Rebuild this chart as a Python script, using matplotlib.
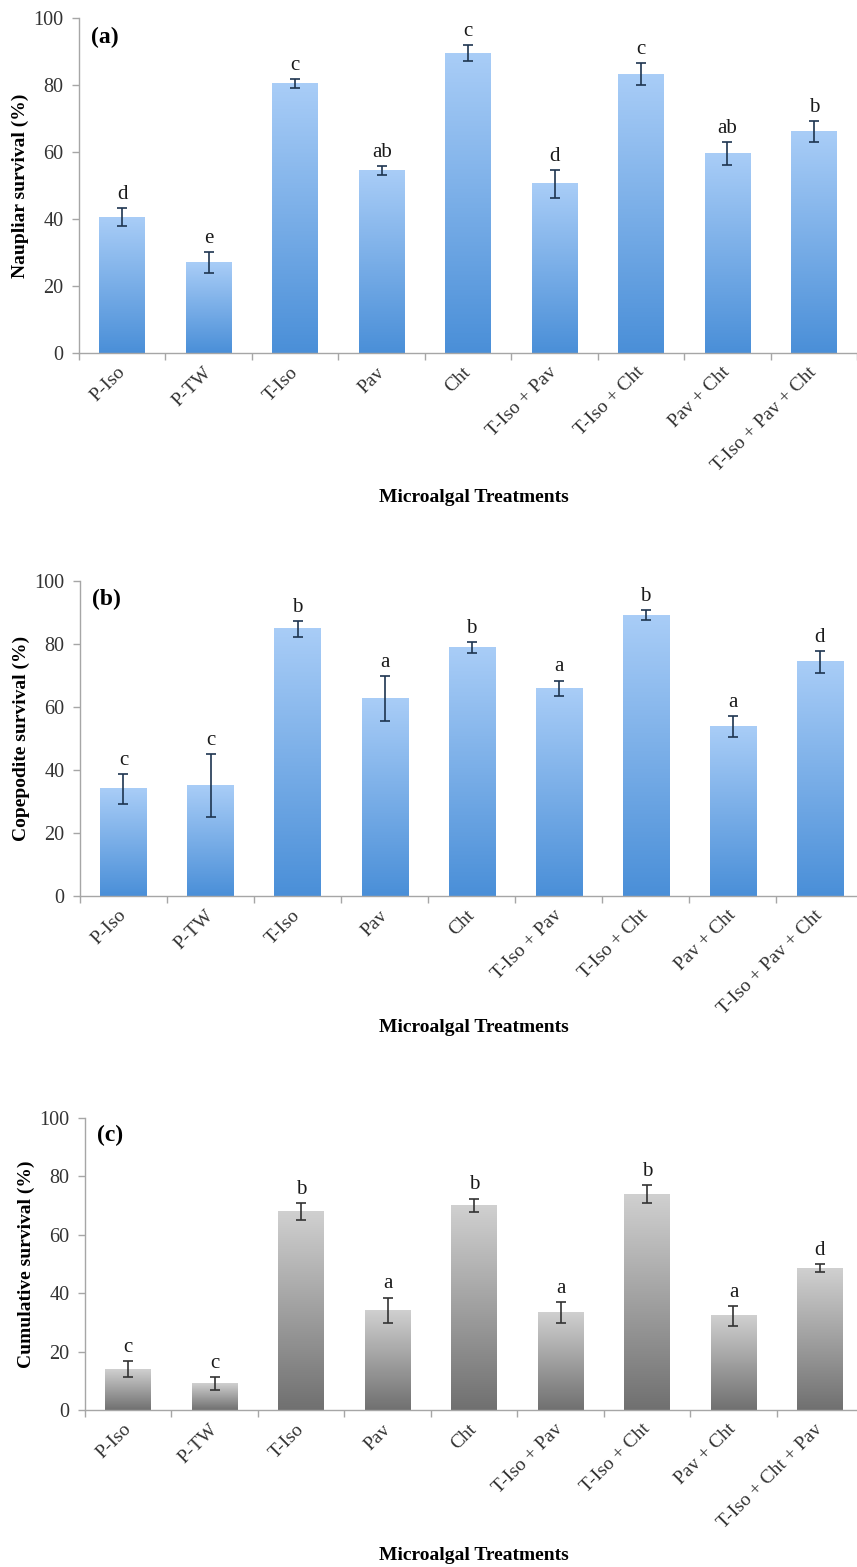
import numpy as np
import matplotlib
matplotlib.use('Agg')
import matplotlib.pyplot as plt
from matplotlib.colors import LinearSegmentedColormap

plt.rcParams['font.family'] = ['Liberation Serif', 'DejaVu Serif']

# Treatment names and survival data (mean, SE, significance letters)
treatments_ab = ['P-Iso', 'P-TW', 'T-Iso', 'Pav', 'Cht', 'T-Iso + Pav',
                 'T-Iso + Cht', 'Pav + Cht', 'T-Iso + Pav + Cht']
treatments_c = ['P-Iso', 'P-TW', 'T-Iso', 'Pav', 'Cht', 'T-Iso + Pav',
                'T-Iso + Cht', 'Pav + Cht', 'T-Iso + Cht + Pav']

naupliar = [40.5, 27.0, 80.5, 54.5, 89.5, 50.5, 83.2, 59.6, 66.1]
naupliar_se = [2.7, 3.1, 1.3, 1.4, 2.4, 4.2, 3.3, 3.4, 3.1]
naupliar_sig = ['d', 'e', 'c', 'ab', 'c', 'd', 'c', 'ab', 'b']

copepodite = [34.0, 35.0, 84.8, 62.7, 78.8, 66.0, 89.2, 53.8, 74.3]
copepodite_se = [4.8, 10.0, 2.6, 7.2, 1.7, 2.4, 1.7, 3.4, 3.5]
copepodite_sig = ['c', 'c', 'b', 'a', 'b', 'a', 'b', 'a', 'd']

cumulative = [14.0, 9.0, 68.0, 34.2, 70.1, 33.4, 73.9, 32.2, 48.6]
cumulative_se = [2.8, 2.2, 3.0, 4.3, 2.3, 3.5, 3.0, 3.4, 1.4]
cumulative_sig = ['c', 'c', 'b', 'a', 'b', 'a', 'b', 'a', 'd']

blue_cmap = LinearSegmentedColormap.from_list('blue', ['#4a8fd8', '#a9cdf7'])
grey_cmap = LinearSegmentedColormap.from_list('grey', ['#707070', '#d0d0d0'])


def survival_panel(ax, labels, values, errors, letters, cmap, err_color,
                   ylabel, tag):
    x = np.arange(len(values))
    width = 0.53
    bars = ax.bar(x, values, width, color='none', edgecolor='none', zorder=2)
    grad = np.linspace(0, 1, 256).reshape(-1, 1)
    for bar in bars:
        x0 = bar.get_x()
        ax.imshow(grad, extent=[x0, x0 + bar.get_width(), 0, bar.get_height()],
                  origin='lower', aspect='auto', cmap=cmap, zorder=2)
    ax.errorbar(x, values, yerr=errors, fmt='none', ecolor=err_color,
                elinewidth=1.2, capsize=3.5, capthick=1.2, zorder=3)
    for xi, v, e, s in zip(x, values, errors, letters):
        ax.annotate(s, (xi, v + e), xytext=(0, 3), textcoords='offset points',
                    ha='center', va='bottom', fontsize=15, color='#1a1a1a')

    ax.set_xlim(-0.5, len(values) - 0.5)
    ax.set_ylim(0, 100)
    ax.set_yticks(np.arange(0, 101, 20))
    ax.tick_params(axis='y', labelsize=14.5, colors='#a6a6a6', labelcolor='#333333',
                   length=5, width=1, pad=6)

    # boundary ticks between categories, labels at the centres
    ax.set_xticks(np.arange(len(values) + 1) - 0.5)
    ax.set_xticklabels([])
    ax.tick_params(axis='x', which='major', length=5, width=1, colors='#a6a6a6')
    ax.set_xticks(x, minor=True)
    ax.set_xticklabels(labels, minor=True, rotation=45, ha='right',
                       va='center', rotation_mode='anchor', fontsize=14,
                       color='#333333')
    ax.tick_params(axis='x', which='minor', length=0, pad=12)

    for side in ('top', 'right'):
        ax.spines[side].set_visible(False)
    for side in ('left', 'bottom'):
        ax.spines[side].set_color('#a6a6a6')
        ax.spines[side].set_linewidth(1.0)

    ax.set_ylabel(ylabel, fontsize=14, fontweight='bold', labelpad=3)
    ax.text(0.015, 0.975, tag, transform=ax.transAxes, fontsize=17,
            fontweight='bold', va='top', ha='left')


fig = plt.figure(figsize=(8.57, 15.67), dpi=100)

ax_a = fig.add_axes([0.0922, 0.7747, 0.908, 0.2138])
ax_b = fig.add_axes([0.0933, 0.4282, 0.914, 0.2010])
ax_c = fig.add_axes([0.0992, 0.1002, 0.908, 0.1863])

survival_panel(ax_a, treatments_ab, naupliar, naupliar_se, naupliar_sig,
               blue_cmap, '#1e3550', 'Naupliar survival (%)', '(a)')
survival_panel(ax_b, treatments_ab, copepodite, copepodite_se, copepodite_sig,
               blue_cmap, '#1e3550', 'Copepodite survival (%)', '(b)')
survival_panel(ax_c, treatments_c, cumulative, cumulative_se, cumulative_sig,
               grey_cmap, '#333333', 'Cumulative survival (%)', '(c)')

for y in (1 - 497 / 1567, 1 - 1028 / 1567, 1 - 1555 / 1567):
    fig.text(0.553, y, 'Microalgal Treatments', fontsize=14, fontweight='bold',
             ha='center', va='center')

fig.savefig('out.png', dpi=100)
